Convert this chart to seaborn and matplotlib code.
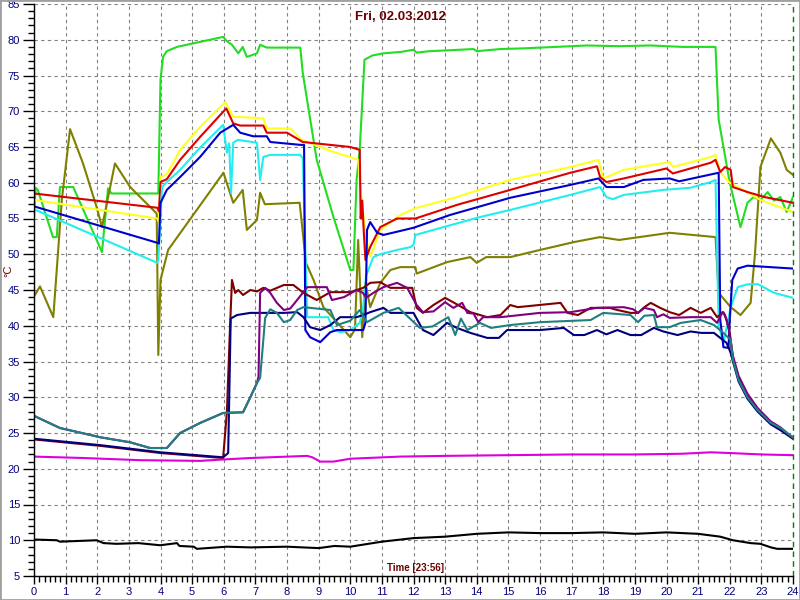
import matplotlib
matplotlib.use("Agg")
import matplotlib.pyplot as plt
from matplotlib.ticker import MultipleLocator
from matplotlib.patches import Rectangle
import pandas as pd
import seaborn as sns

# hours of the day / temperature readings (deg C)
green_h = [0, 0.05, 0.12, 0.6, 0.72, 0.82, 1.24, 2.15, 2.34, 2.45, 3.93, 4.0, 4.08, 4.2, 4.52, 5.25, 5.98, 6.1, 6.26, 6.46,
           6.6, 6.73, 7.05, 7.15, 7.36, 8.42, 8.5, 8.94, 9.47, 10.0, 10.1, 10.2, 10.3, 10.45, 10.7, 11.05, 11.6, 12.0, 12.1, 12.5,
           13.0, 13.9, 14.0, 14.75, 15.5, 16.5, 17.5, 18.5, 19.5, 20.5, 21.55, 21.65, 22.0, 22.34, 22.56, 22.75, 22.97, 23.2, 23.4, 23.6,
           23.8, 24]
green_v = [55, 59.3, 59, 52.4, 52.4, 59.4, 59.4, 50.3, 59.2, 58.5, 58.5, 74.4, 77.6, 78.4, 79, 79.7, 80.4, 79.8, 79.3, 78.1,
           79, 77.6, 78.1, 79.3, 78.9, 78.9, 75.3, 63.2, 55.2, 47.8, 47.8, 60.4, 64.6, 77.2, 77.8, 78.1, 78.3, 78.6, 78.2, 78.4,
           78.5, 78.7, 78.4, 78.7, 78.8, 79, 79.2, 79.1, 79.2, 79, 79, 68.8, 60, 53.8, 57.2, 58, 57.6, 58.7, 57.5, 58,
           55.9, 58]

olive_h = [0, 0.19, 0.61, 0.88, 1.14, 1.55, 1.98, 2.15, 2.56, 3.04, 3.88, 3.93, 4.0, 4.24, 5.99, 6.3, 6.6, 6.73, 7.05, 7.15,
           7.3, 8.4, 8.6, 8.84, 9.15, 9.6, 10.0, 10.15, 10.25, 10.38, 10.48, 10.63, 10.95, 11.27, 11.58, 12.06, 12.1, 13.06, 13.8, 14.0,
           14.3, 15.06, 16.0, 17.07, 17.9, 18.5, 20.1, 21.55, 21.65, 22.03, 22.34, 22.66, 22.8, 22.97, 23.3, 23.6, 23.8, 24]
olive_v = [44.1, 45.5, 41.2, 57.6, 67.5, 62.7, 56.6, 53.8, 62.7, 59.4, 55.7, 35.9, 46.4, 50.6, 61.4, 57.2, 59, 53.4, 54.8, 58.6,
           57, 57.2, 48.8, 46.4, 42.6, 40.4, 38.4, 39.5, 52, 38.4, 46, 42.6, 46, 47.8, 48.2, 48.2, 47.3, 48.9, 49.6, 48.8,
           49.6, 49.6, 50.6, 51.7, 52.4, 52, 53, 52.4, 44.6, 42.6, 41.5, 43.2, 50.2, 62.2, 66.2, 64.2, 61.8, 61.1]

yellow_h = [0, 3.9, 3.95, 4.0, 4.2, 4.62, 5.25, 6.05, 6.3, 6.52, 7.25, 7.36, 8.1, 8.47, 9.47, 10.0, 10.25, 10.35, 10.48, 10.63,
            10.95, 11.58, 12.1, 13.37, 15.06, 16.96, 17.85, 18.0, 18.65, 20.1, 20.2, 21.4, 21.55, 21.7, 22.0, 22.34, 22.97, 24]
yellow_v = [57.6, 55, 54.5, 60.8, 61.2, 64.6, 67.8, 71.3, 69.2, 69.2, 69, 67.6, 67.6, 66, 64.3, 63.6, 63.2, 58, 53, 49.6,
            53.4, 55.5, 56.5, 58, 60.4, 62.2, 63.2, 60.6, 61.8, 62.9, 62.2, 63.6, 63.9, 61.5, 60, 59.2, 57.6, 55.9]

red_h = [0, 3.9, 3.95, 4.0, 4.2, 4.62, 5.25, 6.08, 6.3, 6.52, 7.25, 7.36, 8.0, 8.5, 10.0, 10.3, 10.33, 10.38, 10.42, 10.48,
         10.63, 10.95, 11.48, 12.06, 13.37, 15.06, 16.96, 17.8, 17.9, 18.1, 18.65, 20.0, 20.2, 21.4, 21.55, 21.7, 21.85, 22.03, 22.1, 22.56,
         23.1, 24]
red_v = [58.5, 56.5, 56, 60.1, 60.5, 63.2, 66.4, 70.4, 68.3, 68, 68, 67, 67, 65.7, 65, 64.6, 55, 57.5, 53.8, 49.2,
         51, 53.8, 55, 55, 56.9, 59, 61.4, 62.3, 60.8, 60.1, 60.6, 62, 61.3, 62.8, 63.2, 61.5, 62.2, 61.8, 59.4, 58.7,
         58, 57.2]

cyan_h = [0, 3.9, 3.93, 4.05, 4.2, 4.62, 5.25, 5.98, 6.1, 6.17, 6.23, 6.3, 6.45, 7.05, 7.15, 7.25, 7.47, 8.42, 8.5, 8.64,
          8.94, 9.3, 9.47, 9.68, 10.0, 10.3, 10.4, 10.5, 10.73, 10.95, 11.48, 11.9, 12.0, 12.06, 12.95, 14.1, 15.06, 16.96, 17.9, 18.1,
          18.3, 18.65, 19.9, 20.76, 21.4, 21.55, 21.65, 21.8, 22.03, 22.25, 22.56, 22.9, 23.4, 24]
cyan_v = [56.3, 48.8, 49.2, 59.4, 60.1, 61.8, 64.9, 68.1, 64.2, 65.5, 58.6, 65.6, 66, 65.6, 60.4, 63.6, 63.9, 63.9, 63.4, 41.2,
          41.2, 41.2, 39.4, 39.1, 39.4, 40.4, 42.2, 47, 49.6, 50, 50.6, 51, 51.3, 52.7, 53.8, 55.2, 56.2, 58.3, 59.4, 58,
          57.7, 58.3, 59, 59.3, 60.1, 60.4, 40, 37.6, 42.6, 45.4, 45.8, 45.8, 44.6, 43.9]

blue_h = [0, 3.9, 3.95, 4.0, 4.2, 4.62, 5.25, 5.89, 6.3, 6.52, 6.93, 7.36, 7.47, 8.42, 8.54, 8.58, 8.73, 9.05, 9.37, 9.58,
          10.41, 10.48, 10.53, 10.63, 10.85, 11.05, 12.0, 13.16, 15.06, 16.96, 17.85, 18.1, 18.65, 19.27, 20.1, 20.4, 21.65, 21.7, 21.77, 21.8,
          21.96, 22.0, 22.08, 22.25, 22.56, 24]
blue_v = [56.7, 51.6, 51.5, 57.2, 59, 60.8, 63.6, 67, 68.1, 67, 66.5, 66.5, 65.7, 65.3, 65.3, 39.4, 38.4, 37.7, 39.1, 39.4,
          39.4, 40.4, 53.4, 54.5, 53, 52.7, 53.7, 55.5, 57.9, 59.7, 60.6, 59.4, 59.4, 60.4, 60.6, 60.2, 61.4, 40.8, 38.3, 37,
          36.9, 40.8, 46.4, 48, 48.4, 48]

maroon_h = [0, 2.1, 4.0, 5.98, 6.1, 6.2, 6.26, 6.36, 6.46, 6.61, 6.84, 7.05, 7.25, 7.47, 7.9, 8.2, 8.52, 8.94, 9.37, 10.0,
            10.41, 10.63, 10.95, 11.1, 11.27, 11.96, 12.1, 12.3, 12.63, 13.0, 13.37, 13.8, 14.33, 14.75, 15.06, 15.3, 16.65, 16.87, 17.2, 17.6,
            18.2, 18.45, 18.86, 19.1, 19.3, 19.5, 19.8, 20.1, 20.4, 20.76, 21.08, 21.4, 21.6, 21.8, 21.9, 22.0, 22.1, 22.28, 22.56, 22.88,
            23.3, 23.6, 24]
maroon_v = [24.1, 23.2, 22.2, 21.5, 28, 40, 46.4, 44.6, 45, 44.3, 45, 44.8, 45.3, 44.9, 45.7, 45.7, 44.6, 43.6, 44.7, 44.7,
            45.3, 46, 46.1, 45.7, 45.3, 45.3, 42.5, 41.8, 42.9, 43.9, 43, 41.9, 41.2, 41.5, 42.9, 42.6, 43.2, 41.8, 41.5, 42.5,
            42.5, 42.2, 41.8, 41.8, 42.6, 43.2, 42.5, 41.9, 41.5, 42.5, 41.8, 42.5, 41.2, 41.9, 40.8, 39, 35.5, 32.6, 30.2, 28.3,
            26.5, 25.6, 24.2]

navy_h = [0, 2.1, 4.0, 5.98, 6.14, 6.22, 6.42, 6.84, 7.9, 8.32, 8.52, 8.73, 9.05, 9.37, 9.68, 10.2, 10.41, 10.63, 11.05, 11.27,
          12.0, 12.3, 12.63, 13.06, 13.37, 13.8, 14.33, 14.7, 14.96, 16.0, 16.75, 17.07, 17.4, 17.8, 18.1, 18.45, 18.86, 19.2, 19.6, 19.9,
          20.35, 20.76, 21.1, 21.5, 21.9, 22.03, 22.1, 22.28, 22.56, 22.88, 23.3, 23.6, 24]
navy_v = [24.2, 23.3, 22.3, 21.6, 22.2, 41, 41.5, 41.8, 41.8, 41.9, 41.2, 39.8, 39.4, 40.1, 41.2, 41.2, 41.5, 41.9, 42.5, 41.8,
          41.8, 39.4, 38.7, 40.4, 39.7, 39, 38.3, 38.3, 39.4, 39.4, 39.7, 38.7, 38.7, 39.4, 38.8, 39.4, 38.7, 38.7, 39.7, 39.2,
          38.7, 39.2, 39, 39, 37.6, 36.2, 35, 32.2, 29.8, 28, 26.2, 25.4, 24.2]

purple_h = [0, 0.82, 2.1, 3.04, 3.67, 4.2, 4.62, 5.25, 5.98, 6.61, 6.84, 7.05, 7.1, 7.15, 7.31, 7.47, 7.68, 7.9, 8.1, 8.32,
            8.64, 9.26, 9.42, 9.8, 10.2, 10.4, 10.5, 10.73, 11.05, 11.48, 11.8, 12.1, 12.3, 12.63, 13.0, 13.26, 13.54, 13.7, 13.9, 14.05,
            14.2, 14.75, 16.0, 16.96, 17.8, 18.65, 18.95, 19.1, 19.3, 19.6, 19.7, 19.9, 20.1, 20.76, 21.4, 21.6, 21.77, 21.85, 21.96, 22.1,
            22.28, 22.56, 22.88, 23.3, 23.6, 24]
purple_v = [27.4, 25.7, 24.4, 23.7, 22.9, 22.9, 25, 26.4, 27.8, 27.9, 30, 32, 32.9, 44.6, 45.3, 44.6, 43.2, 42.2, 42.4, 43.6,
            45.4, 45.4, 43.6, 44, 45, 44.6, 43.9, 44.6, 45.4, 46, 45.3, 42.9, 41.9, 42, 43.3, 42.5, 43.2, 41.8, 41.7, 40.5,
            41.2, 41.2, 41.8, 41.9, 42.5, 42.6, 42.3, 41.8, 42.5, 42.2, 41.2, 41.6, 41.1, 41.2, 41.2, 40.4, 41.9, 41.5, 39.8, 35.8,
            33, 30.5, 28.5, 26.6, 25.8, 24.3]

teal_h = [0, 0.82, 2.1, 3.04, 3.67, 4.2, 4.62, 5.25, 5.98, 6.61, 6.84, 7.05, 7.15, 7.31, 7.47, 7.68, 7.9, 8.1, 8.32, 8.52,
          9.37, 9.58, 10.0, 10.3, 10.53, 11.05, 11.53, 12.2, 12.6, 13.1, 13.32, 13.5, 13.7, 14.1, 14.45, 15.06, 16.0, 17.6, 18.0, 18.86,
          19.1, 19.3, 19.6, 19.7, 20.1, 20.45, 21.08, 21.5, 21.8, 22.03, 22.1, 22.28, 22.56, 22.88, 23.3, 23.6, 24]
teal_v = [27.4, 25.7, 24.4, 23.7, 22.9, 22.9, 25, 26.4, 27.8, 27.9, 30, 32, 32.7, 41.1, 42.3, 41.8, 40.5, 40.8, 42.2, 42.6,
          42.2, 40.1, 40.7, 42.2, 40.5, 41.8, 42.5, 39.7, 39.9, 41.2, 38.7, 41, 39.4, 40.4, 39.7, 40.1, 40.5, 40.8, 41.8, 41.5,
          40.5, 41.4, 41.5, 39.8, 39.8, 40.4, 40.8, 40.1, 39, 38, 35.2, 32.4, 30, 28.2, 26.4, 25.7, 24.4]

magenta_h = [0, 1.58, 3.35, 5.25, 6.0, 6.84, 8.64, 8.8, 9.05, 9.47, 10.0, 11.58, 13.0, 15.0, 17.0, 19.0, 20.5, 21.4, 22.0, 23.0, 24]
magenta_v = [21.7, 21.5, 21.2, 21.1, 21.3, 21.5, 21.8, 21.6, 21.0, 21.0, 21.4, 21.7, 21.8, 21.9, 22.0, 22.0, 22.1, 22.3, 22.2, 22.0, 21.9]

black_h = [0, 0.72, 0.82, 1.98, 2.2, 2.61, 3.3, 3.99, 4.52, 4.6, 5.05, 5.15, 6.1, 6.84, 8.0, 9.0, 9.5, 10.0, 11.0, 12.0,
           13, 14, 15, 16, 17, 18, 19, 20, 21, 21.7, 22.1, 22.66, 22.97, 23.3, 23.5, 24]
black_v = [10.1, 10.0, 9.8, 10.0, 9.6, 9.5, 9.6, 9.3, 9.6, 9.2, 9.1, 8.8, 9.1, 9.0, 9.1, 8.9, 9.2, 9.1, 9.8, 10.3,
           10.5, 10.9, 11.1, 11.0, 11.0, 11.1, 10.9, 11.1, 10.9, 10.5, 10.0, 9.6, 9.5, 9.0, 8.8, 8.8]

# drawing order: first one ends up underneath
series = [
    (green_h, green_v, "#22dd22"),
    (olive_h, olive_v, "#808000"),
    (yellow_h, yellow_v, "#ffff22"),
    (red_h, red_v, "#dd0000"),
    (cyan_h, cyan_v, "#22eeee"),
    (blue_h, blue_v, "#0000cc"),
    (maroon_h, maroon_v, "#800000"),
    (navy_h, navy_v, "#000080"),
    (purple_h, purple_v, "#800080"),
    (teal_h, teal_v, "#208080"),
    (magenta_h, magenta_v, "#dd00dd"),
    (black_h, black_v, "#000000"),
]


def main():
    sns.set_style("white")
    plt.rcParams["font.family"] = ["Liberation Sans", "DejaVu Sans"]

    fig = plt.figure(figsize=(8, 6), dpi=100)
    ax = fig.add_axes([34 / 800, 24 / 600, 759 / 800, 572 / 600])

    for hrs, vals, col in series:
        df = pd.DataFrame({"hour": hrs, "temp": vals})
        sns.lineplot(data=df, x="hour", y="temp", ax=ax, color=col,
                     linewidth=1.5, estimator=None, sort=False)

    ax.set_xlim(0, 24)
    ax.set_ylim(5, 85)
    ax.set_xlabel("")
    ax.set_ylabel("")
    ax.xaxis.set_major_locator(MultipleLocator(1))
    ax.xaxis.set_minor_locator(MultipleLocator(1 / 6))
    ax.yaxis.set_major_locator(MultipleLocator(5))
    ax.yaxis.set_minor_locator(MultipleLocator(1))

    ax.grid(True, which="major", color="#808080", linestyle=(0, (3, 3)), linewidth=0.8)
    ax.set_axisbelow(True)

    ax.tick_params(axis="y", which="major", direction="out", length=8, width=1,
                   color="black", labelcolor="#000080", labelsize=8, pad=2, left=True)
    ax.tick_params(axis="x", which="major", direction="out", length=6, width=1,
                   color="black", labelcolor="#000080", labelsize=8, pad=2, bottom=True)
    ax.tick_params(which="minor", direction="out", length=4, width=1, color="black",
                   left=True, bottom=True)

    for side in ("top", "right"):
        ax.spines[side].set_visible(False)
    for side in ("left", "bottom"):
        ax.spines[side].set_color("black")
        ax.spines[side].set_linewidth(1)

    ax.axvline(24, color="#008000", linestyle=(0, (4, 3)), linewidth=1, clip_on=False)

    dark_red = "#6b0000"
    fig.text(400 / 800, 1 - 17 / 600, "Fri, 02.03.2012", ha="center", va="center",
             color=dark_red, fontsize=9.5, fontweight="bold")
    fig.text(415 / 800, 1 - 568 / 600, "Time [23:56]", ha="center", va="center",
             color=dark_red, fontsize=7, fontweight="bold")
    fig.text(8 / 800, 1 - 271 / 600, "°C", ha="center", va="center", rotation=90,
             color=dark_red, fontsize=8)

    # thin grey window frame
    fig.patches.append(Rectangle((0, 0), 1, 1, transform=fig.transFigure, fill=False,
                                 edgecolor="#a0a0a0", linewidth=2))

    fig.savefig("out.png", dpi=100)


if __name__ == "__main__":
    main()
